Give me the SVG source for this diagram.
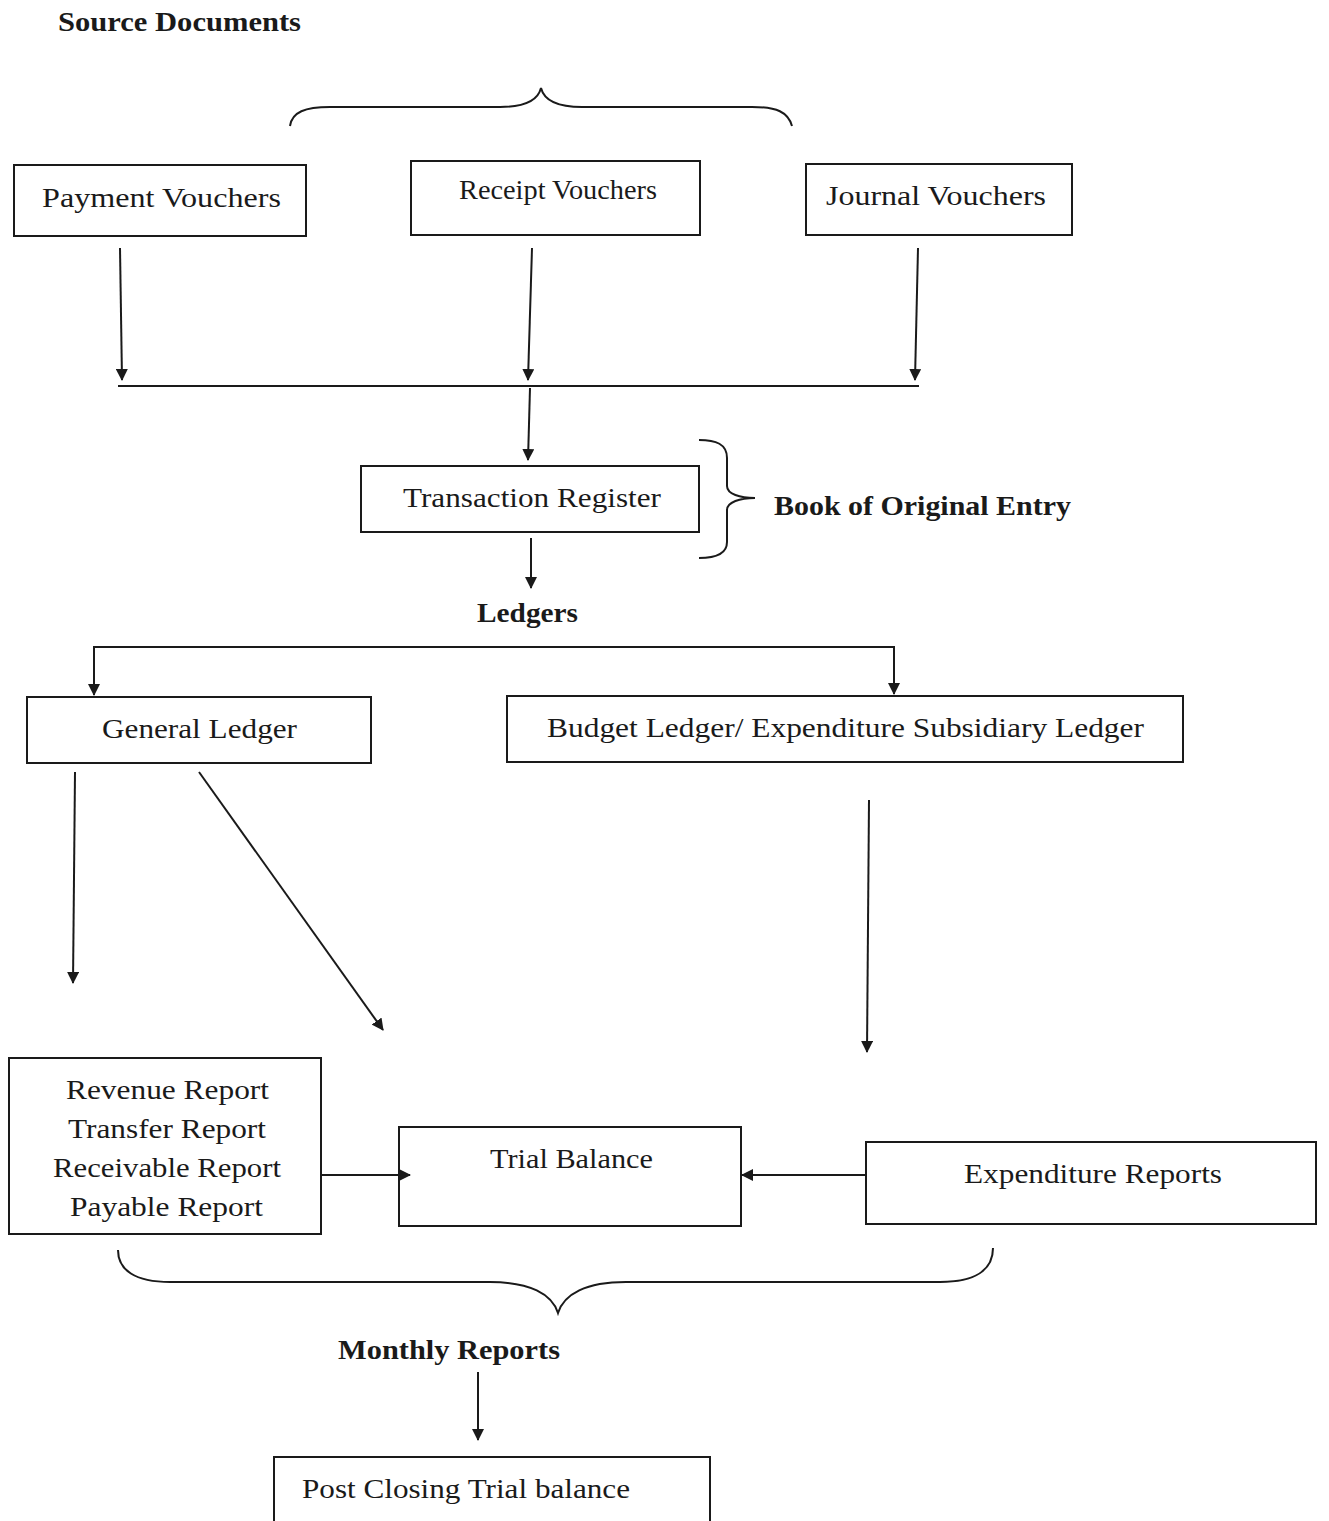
<svg xmlns="http://www.w3.org/2000/svg" width="1329" height="1521" viewBox="0 0 1329 1521">
<defs>
<style>
.box{fill:#fff;stroke:#1a1a1a;stroke-width:2}
.t{font-family:"Liberation Serif","DejaVu Serif",serif;font-size:27px;fill:#1a1a1a}
.b{font-family:"Liberation Serif","DejaVu Serif",serif;font-size:27px;font-weight:bold;fill:#1a1a1a}
.ln{fill:none;stroke:#1a1a1a;stroke-width:2}
.ar{fill:none;stroke:#1a1a1a;stroke-width:2;marker-end:url(#ah)}
</style>
<marker id="ah" viewBox="0 0 12 12" refX="11" refY="6" markerWidth="12" markerHeight="12" markerUnits="userSpaceOnUse" orient="auto">
<path d="M0,0 L12,6 L0,12 Z" fill="#1a1a1a"/>
</marker>
</defs>
<rect width="1329" height="1521" fill="#fff"/>

<g id="labels">
<text class="b" x="58" y="31" textLength="243" lengthAdjust="spacingAndGlyphs">Source Documents</text>
<text class="b" x="774" y="515" textLength="297" lengthAdjust="spacingAndGlyphs">Book of Original Entry</text>
<text class="b" x="477" y="622" textLength="101" lengthAdjust="spacingAndGlyphs">Ledgers</text>
<text class="b" x="338" y="1359" textLength="222" lengthAdjust="spacingAndGlyphs">Monthly Reports</text>
</g>

<g id="braces">
<path class="ln" d="M290,126 C292,112 305,107 330,107 L500,107 C525,107 538,100 541,88 C544,100 557,107 582,107 L752,107 C777,107 788,112 792,126"/>
<path class="ln" d="M699,440 C716,440 727,444 727,458 L727,486 C727,494 740,498 755,498 C740,498 727,502 727,510 L727,542 C727,554 716,558 699,558"/>
<path class="ln" d="M118,1250 C118,1270 135,1282 170,1282 L490,1282 C530,1282 552,1294 558,1313 C564,1294 586,1282 626,1282 L940,1282 C975,1282 993,1270 993,1248"/>
</g>

<g id="payment-vouchers">
<rect class="box" x="14" y="165" width="292" height="71"/>
<text class="t" x="42" y="207" textLength="239" lengthAdjust="spacingAndGlyphs">Payment Vouchers</text>
</g>
<g id="receipt-vouchers">
<rect class="box" x="411" y="161" width="289" height="74"/>
<text class="t" x="459" y="199" textLength="198" lengthAdjust="spacingAndGlyphs">Receipt Vouchers</text>
</g>
<g id="journal-vouchers">
<rect class="box" x="806" y="164" width="266" height="71"/>
<text class="t" x="826" y="205" textLength="220" lengthAdjust="spacingAndGlyphs">Journal Vouchers</text>
</g>
<g id="transaction-register">
<rect class="box" x="361" y="466" width="338" height="66"/>
<text class="t" x="403" y="507" textLength="258" lengthAdjust="spacingAndGlyphs">Transaction Register</text>
</g>
<g id="general-ledger">
<rect class="box" x="27" y="697" width="344" height="66"/>
<text class="t" x="102" y="738" textLength="195" lengthAdjust="spacingAndGlyphs">General Ledger</text>
</g>
<g id="budget-ledger">
<rect class="box" x="507" y="696" width="676" height="66"/>
<text class="t" x="547" y="737" textLength="597" lengthAdjust="spacingAndGlyphs">Budget Ledger/ Expenditure Subsidiary Ledger</text>
</g>
<g id="reports">
<rect class="box" x="9" y="1058" width="312" height="176"/>
<text class="t" x="66" y="1099" textLength="203" lengthAdjust="spacingAndGlyphs">Revenue Report</text>
<text class="t" x="68" y="1138" textLength="198" lengthAdjust="spacingAndGlyphs">Transfer Report</text>
<text class="t" x="53" y="1177" textLength="228" lengthAdjust="spacingAndGlyphs">Receivable Report</text>
<text class="t" x="70" y="1216" textLength="193" lengthAdjust="spacingAndGlyphs">Payable Report</text>
</g>
<g id="trial-balance">
<rect class="box" x="399" y="1127" width="342" height="99"/>
<text class="t" x="490" y="1168" textLength="163" lengthAdjust="spacingAndGlyphs">Trial Balance</text>
</g>
<g id="expenditure-reports">
<rect class="box" x="866" y="1142" width="450" height="82"/>
<text class="t" x="964" y="1183" textLength="258" lengthAdjust="spacingAndGlyphs">Expenditure Reports</text>
</g>
<g id="post-closing">
<rect class="box" x="274" y="1457" width="436" height="80"/>
<text class="t" x="302" y="1498" textLength="328" lengthAdjust="spacingAndGlyphs">Post Closing Trial balance</text>
</g>

<g id="connectors">
<line class="ar" x1="120" y1="248" x2="122" y2="380"/>
<line class="ar" x1="532" y1="248" x2="528" y2="380"/>
<line class="ar" x1="918" y1="248" x2="915" y2="380"/>
<line class="ln" x1="118" y1="386" x2="919" y2="386"/>
<line class="ar" x1="530" y1="388" x2="528" y2="460"/>
<line class="ar" x1="531" y1="538" x2="531" y2="588"/>
<polyline class="ln" points="94,694 94,647 894,647 894,694"/>
<line class="ar" x1="94" y1="660" x2="94" y2="695"/>
<line class="ar" x1="894" y1="660" x2="894" y2="694"/>
<line class="ar" x1="75" y1="772" x2="73" y2="983"/>
<line class="ar" x1="199" y1="772" x2="383" y2="1030"/>
<line class="ar" x1="869" y1="800" x2="867" y2="1052"/>
<line class="ar" x1="321" y1="1175" x2="410" y2="1175"/>
<line class="ar" x1="866" y1="1175" x2="742" y2="1175"/>
<line class="ar" x1="478" y1="1372" x2="478" y2="1440"/>
</g>
</svg>
